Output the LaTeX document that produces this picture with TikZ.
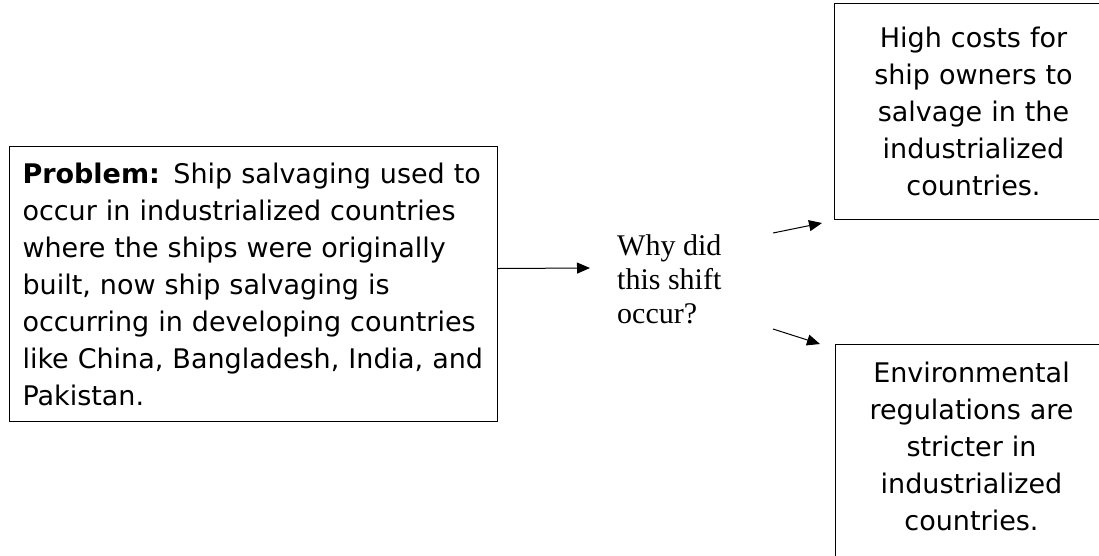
\documentclass[tikz,border=0pt]{standalone}
\usepackage{fontspec}
\setmainfont{DejaVu Sans}
\newfontfamily\whyfont{Liberation Serif}
\usetikzlibrary{arrows.meta,calc}

\begin{document}
\begin{tikzpicture}[x=1pt,y=1pt,
  box/.style={draw,line width=1pt,inner xsep=0pt,font=\fontsize{27}{37}\selectfont},
  arr/.style={-{Triangle[length=13pt,width=11pt]},line width=1pt}]
\useasboundingbox (0,0) rectangle (1099,-555);

% Problem box
\node[box,anchor=north west,text width=462pt,inner xsep=13pt,minimum height=275pt,align=left] (problem) at (9,-146)
  {\textbf{Problem:} Ship salvaging used to\\occur in industrialized countries\\where the ships were originally\\built, now ship salvaging is\\occurring in developing countries\\like China, Bangladesh, India, and\\Pakistan.};

% Question
\node[anchor=north west,inner sep=0pt,align=left,font=\whyfont\fontsize{30}{34}\selectfont] (why) at (617,-234)
  {Why did\\this shift\\occur?};

% Causes
\node[box,anchor=north west,text width=278pt,minimum height=216pt,align=center] (costs) at (834,-3)
  {High costs for\\ship owners to\\salvage in the\\industrialized\\countries.};
\node[box,anchor=north west,text width=272pt,inner ysep=17pt,text depth=250pt,align=center] (rules) at (835,-344)
  {Environmental\\regulations are\\stricter in\\industrialized\\countries.};

% Arrows
\coordinate (up) at (773,-233);
\coordinate (down) at (773,-329);
\draw[arr] ([yshift=15.5]problem.east) -- ($(why.north west)+(-27,-34)$);
\draw[arr] (up) -- ([shift={(-12,-3)}]costs.south west);
\draw[arr] (down) -- ([xshift=-15]rules.north west);

\end{tikzpicture}
\end{document}
